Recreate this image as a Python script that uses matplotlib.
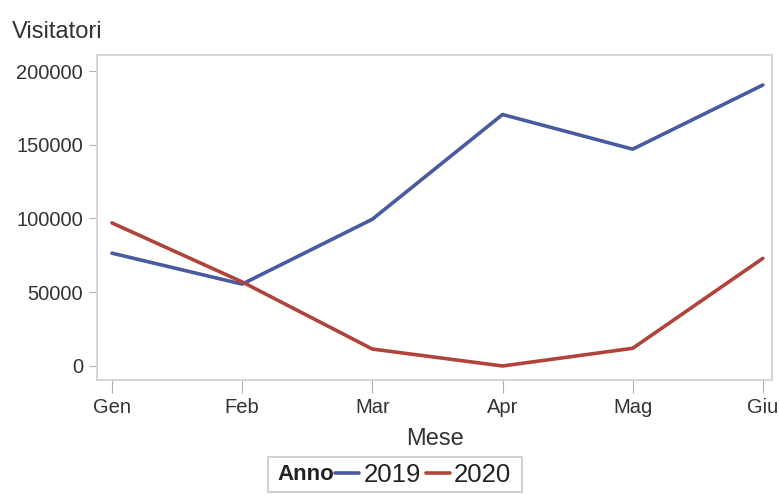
import matplotlib
matplotlib.use('Agg')
import matplotlib.pyplot as plt
from matplotlib.patches import Rectangle

plt.rcParams['font.family'] = ['Liberation Sans', 'DejaVu Sans']

mesi = ['Gen', 'Feb', 'Mar', 'Apr', 'Mag', 'Giu']
v2019 = [76500, 55500, 99500, 170500, 147000, 190500]
v2020 = [97000, 57000, 11500, 0, 12000, 73000]
anni = ['2019', '2020']
colori = ['#4a5aa0', '#b0443a']

W, H = 779, 495
fig = plt.figure(figsize=(W/100, H/100), dpi=100)
ax = fig.add_axes([97/W, 1-380/H, (772-97)/W, (380-55)/H])

x = list(range(len(mesi)))
for serie, anno, col in zip([v2019, v2020], anni, colori):
    ax.plot(x, serie, color=col, lw=2.6, label=anno, solid_capstyle='round')

ax.set_xlim(-0.115, 5.07)
ax.set_ylim(-9500, 210850)
ax.set_xticks(x)
ax.set_xticklabels(mesi)
ax.set_yticks([0, 50000, 100000, 150000, 200000])
ax.tick_params(colors='#b0b0b0', labelcolor='#333333', labelsize=14.5, length=6, width=0.8, pad=4)
ax.tick_params(axis='x', length=9, pad=4)
for s in ax.spines.values():
    s.set_color('#d0d0d0')
    s.set_linewidth(1.2)

ax.set_xlabel('Mese', fontsize=17, color='#333333', labelpad=8)
fig.text(12/W, 1-32/H, 'Visitatori', fontsize=17, color='#333333', va='center', ha='left')

# legenda: riquadro, titolo in linea e voci
fig.patches.append(Rectangle((268/W, 1-492/H), (522-268)/W, 35/H, transform=fig.transFigure,
                             facecolor='white', edgecolor='#c8c8c8', lw=1.2))
fig.text(277/W, 1-475/H, 'Anno', fontsize=16, fontweight='bold', color='#222222', va='center', ha='left')
leg = fig.legend(handles=ax.get_lines(), labels=anni, loc='center left', bbox_to_anchor=(335/W, 1-475/H),
                 ncol=2, fontsize=18.5, frameon=False, handlelength=0.95, handletextpad=0.15,
                 columnspacing=0.2, borderpad=0, borderaxespad=0)
for t in leg.get_texts():
    t.set_color('#222222')

fig.savefig('out.png', dpi=100)
